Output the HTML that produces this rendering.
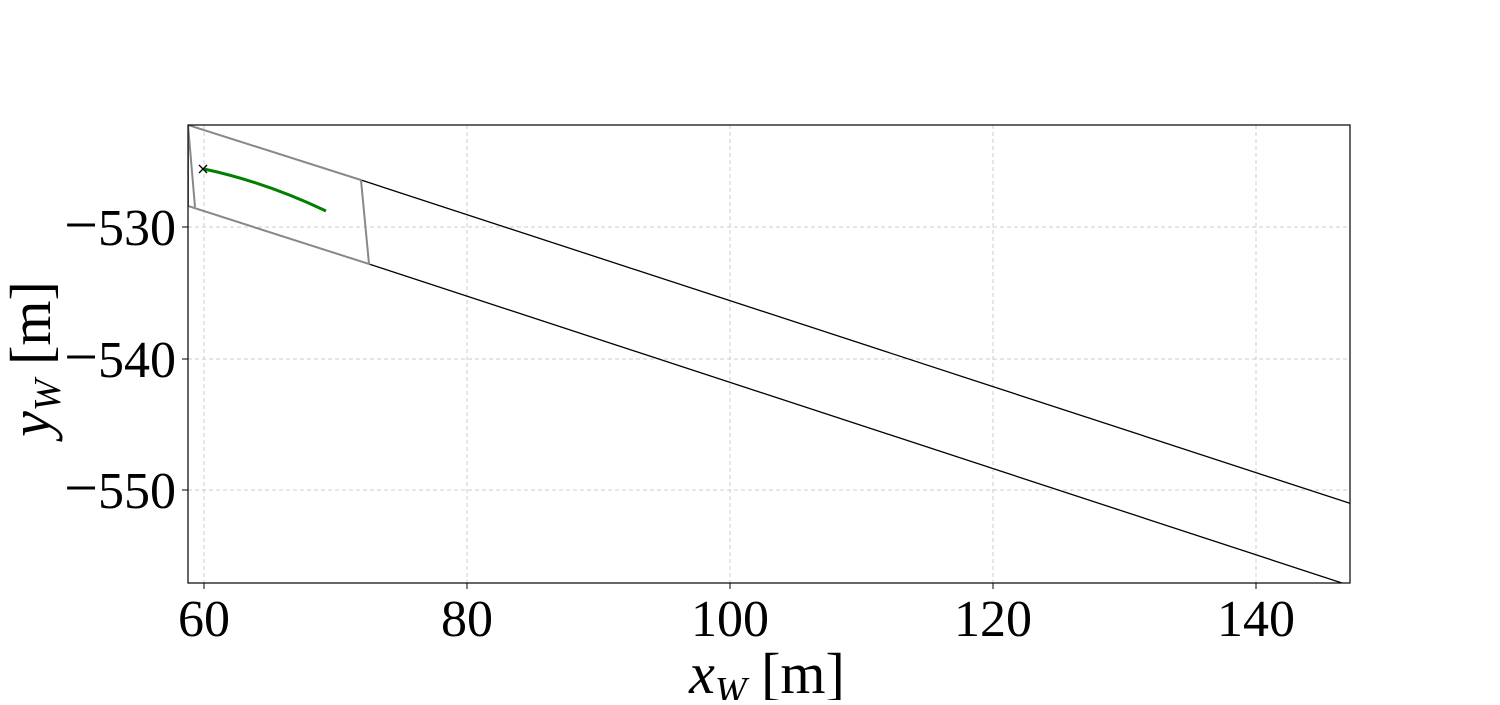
<!DOCTYPE html>
<html><head><style>body{margin:0;background:#fff}</style></head><body>
<svg width="1500" height="700" xmlns="http://www.w3.org/2000/svg" font-family="Liberation Serif, serif">
<defs><clipPath id="c"><rect x="188" y="125" width="1162" height="458"/></clipPath></defs>
<g stroke="#cccccc" stroke-dasharray="4,3" stroke-width="1">
<line x1="204" y1="125" x2="204" y2="583"/><line x1="467" y1="125" x2="467" y2="583"/><line x1="730" y1="125" x2="730" y2="583"/><line x1="993" y1="125" x2="993" y2="583"/><line x1="1256" y1="125" x2="1256" y2="583"/>
<line x1="188" y1="227" x2="1350" y2="227"/><line x1="188" y1="359" x2="1350" y2="359"/><line x1="188" y1="490" x2="1350" y2="490"/>
</g>
<g clip-path="url(#c)" fill="none">
<line x1="361" y1="180" x2="1352" y2="504" stroke="#000" stroke-width="1.3"/>
<line x1="369" y1="264" x2="1345" y2="584" stroke="#000" stroke-width="1.3"/>
<polygon points="188,125 361,180 369,264 188,206" stroke="#888" stroke-width="2"/>
<line x1="188" y1="125" x2="195" y2="207" stroke="#888" stroke-width="2"/>
<path d="M204,169 Q265,182 326,211" stroke="#008000" stroke-width="3"/>
<path d="M199,165 L207,173 M207,165 L199,173" stroke="#000" stroke-width="1.3"/>
</g>
<rect x="188" y="125" width="1162" height="458" fill="none" stroke="#000" stroke-width="1.2"/>
<g stroke="#000"><line x1="204" y1="583" x2="204" y2="589"/><line x1="467" y1="583" x2="467" y2="589"/><line x1="730" y1="583" x2="730" y2="589"/><line x1="993" y1="583" x2="993" y2="589"/><line x1="1256" y1="583" x2="1256" y2="589"/>
<line x1="182" y1="227" x2="188" y2="227"/><line x1="182" y1="359" x2="188" y2="359"/><line x1="182" y1="490" x2="188" y2="490"/></g>
<g font-size="52" text-anchor="middle"><text x="204" y="636">60</text><text x="467" y="636">80</text><text x="730" y="636">100</text><text x="993" y="636">120</text><text x="1256" y="636">140</text></g>
<g font-size="52" text-anchor="end"><text x="176" y="245"><tspan font-size="60" dx="0">−</tspan>530</text><text x="176" y="377"><tspan font-size="60">−</tspan>540</text><text x="176" y="508"><tspan font-size="60">−</tspan>550</text></g>
<text x="767" y="693" font-size="58" text-anchor="middle"><tspan font-style="italic">x</tspan><tspan font-style="italic" font-size="38" dy="10">W</tspan><tspan dy="-10"> [m]</tspan></text>
<text transform="translate(50,359) rotate(-90)" font-size="58" text-anchor="middle"><tspan font-style="italic">y</tspan><tspan font-style="italic" font-size="38" dy="10">W</tspan><tspan dy="-10"> [m]</tspan></text>
</svg>
</body></html>
